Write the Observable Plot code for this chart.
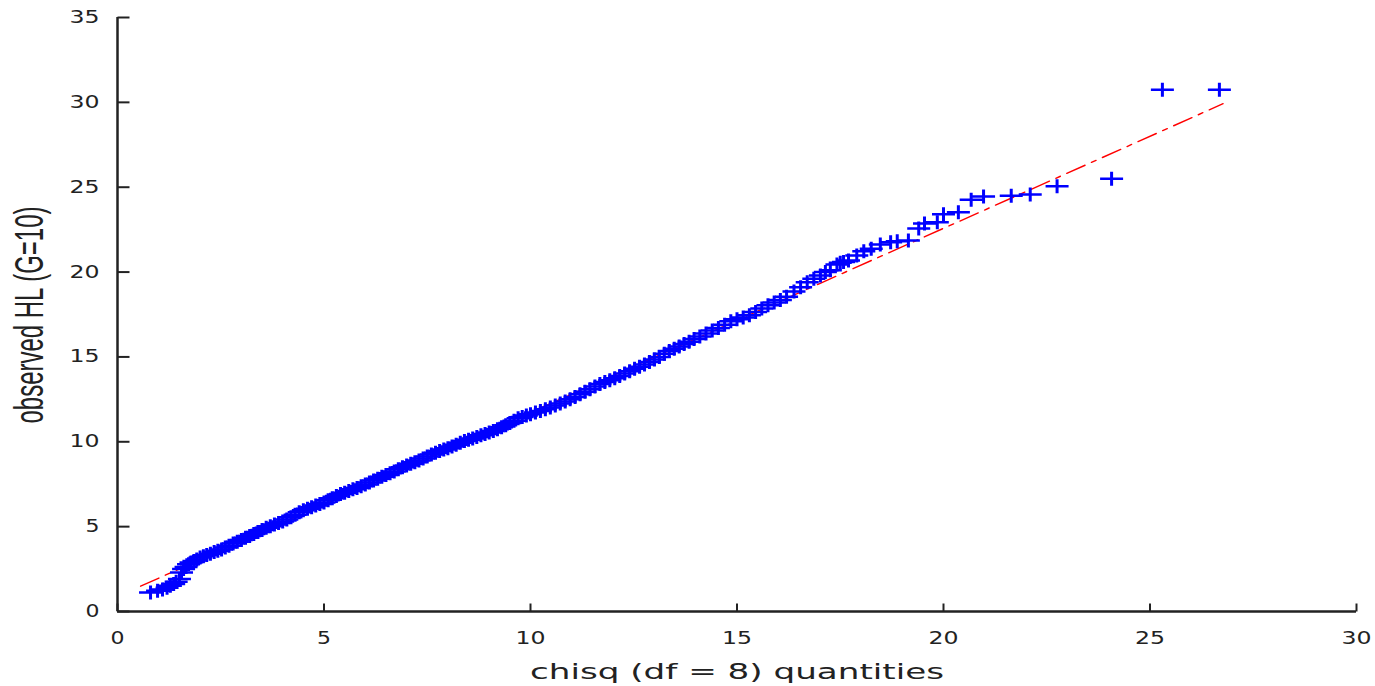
<!DOCTYPE html>
<html><head><meta charset="utf-8">
<script src="https://cdn.jsdelivr.net/npm/d3@7"></script>
<script src="https://cdn.jsdelivr.net/npm/@observablehq/plot@0.6"></script>
<style>body{margin:0;background:#fff;}</style>
</head><body><div id="chart"></div>
<script>
// chi-square (df = 8) theoretical quantiles (x) and observed Hosmer-Lemeshow statistics (y)
const chisqQ = [
0.80,0.97,1.09,1.20,1.28,1.36,1.42,1.50,1.55,1.60,1.66,1.72,1.78,1.85,1.92,2.00,2.08,2.16,2.25,2.34,
2.43,2.52,2.61,2.70,2.80,2.90,3.00,3.10,3.20,3.30,3.40,3.50,3.60,3.70,3.80,3.90,4.00,4.10,4.20,4.30,
4.40,4.50,4.60,4.70,4.80,4.90,5.00,5.10,5.20,5.30,5.40,5.50,5.60,5.70,5.80,5.90,6.00,6.10,6.20,6.30,
6.40,6.50,6.60,6.70,6.80,6.90,7.00,7.10,7.20,7.30,7.40,7.50,7.60,7.70,7.80,7.90,8.00,8.10,8.20,8.30,
8.40,8.50,8.60,8.70,8.80,8.90,9.00,9.10,9.20,9.30,9.40,9.50,9.60,9.70,9.80,9.90,10.00,10.12,10.24,10.36,
10.48,10.60,10.72,10.84,10.96,11.08,11.20,11.32,11.44,11.56,11.68,11.80,11.92,12.04,12.16,12.28,12.40,12.52,12.64,12.76,
12.88,13.00,13.12,13.24,13.36,13.48,13.60,13.72,13.84,13.96,14.10,14.25,14.40,14.55,14.70,14.85,15.00,15.15,15.30,15.45,
15.60,15.75,15.90,16.05,16.20,16.38,16.54,16.70,16.86,17.02,17.14,17.26,17.42,17.50,17.58,17.70,17.90,18.07,18.25,18.47,
18.72,18.88,19.15,19.40,19.54,19.85,20.00,20.36,20.67,20.97,21.64,22.10,22.75,24.07,25.30,26.68
];
const observedHL = [
1.12,1.22,1.30,1.40,1.52,1.62,1.75,1.92,2.30,2.50,2.62,2.78,2.88,2.97,3.06,3.18,3.25,3.33,3.40,3.50,
3.58,3.66,3.77,3.88,4.00,4.11,4.22,4.34,4.45,4.57,4.68,4.80,4.93,5.03,5.12,5.21,5.30,5.42,5.55,5.70,
5.85,5.97,6.06,6.15,6.24,6.33,6.42,6.55,6.68,6.80,6.92,7.00,7.10,7.20,7.28,7.38,7.48,7.60,7.72,7.82,
7.94,8.05,8.15,8.25,8.38,8.50,8.60,8.70,8.80,8.90,9.02,9.14,9.25,9.36,9.45,9.55,9.62,9.72,9.82,9.94,
10.04,10.12,10.20,10.28,10.38,10.46,10.55,10.64,10.74,10.86,10.97,11.10,11.24,11.38,11.46,11.55,11.62,11.72,11.82,11.92,
12.02,12.14,12.26,12.38,12.50,12.64,12.80,12.95,13.10,13.26,13.40,13.52,13.62,13.74,13.88,14.02,14.16,14.30,14.42,14.56,
14.70,14.85,15.00,15.18,15.35,15.48,15.62,15.76,15.90,16.05,16.20,16.38,16.55,16.70,16.90,17.10,17.22,17.32,17.45,17.65,
17.85,18.05,18.20,18.35,18.55,18.85,19.10,19.40,19.60,19.80,20.00,20.10,20.45,20.55,20.60,20.68,20.98,21.23,21.37,21.63,
21.76,21.82,21.86,22.57,22.86,22.94,23.40,23.53,24.26,24.45,24.50,24.57,25.06,25.50,30.74,30.74
];
// reference (fitted) line end points
const refLineX = [0.56, 26.77];
const refLineY = [1.49, 29.92];
const xTicks = [0, 5, 10, 15, 20, 25, 30];
const yTicks = [0, 5, 10, 15, 20, 25, 30, 35];
const xTitle = "chisq (df = 8) quantities";
const yTitle = "observed HL (G=10)";

const pts = chisqQ.map((x, i) => ({x, y: observedHL[i]}));
const ref = refLineX.map((x, i) => ({x, y: refLineY[i]}));

const plusSymbol = {draw(ctx) { ctx.rect(-11.5, -1.25, 23, 2.5); ctx.rect(-1.5, -7, 3, 14); }};
const xTickSym = {draw(ctx) { ctx.moveTo(0, 0); ctx.lineTo(0, -8); }};
const yTickSym = {draw(ctx) { ctx.moveTo(0, 0); ctx.lineTo(12, 0); }};
const axisColor = "#222";

const chart = Plot.plot({
  width: 1375,
  height: 686,
  marginLeft: 117,
  marginRight: 19,
  marginTop: 17,
  marginBottom: 75,
  style: {fontFamily: "DejaVu Sans", background: "#fff"},
  x: {domain: [0, 30], axis: null},
  y: {domain: [0, 35], axis: null},
  marks: [
    Plot.line(ref, {x: "x", y: "y", stroke: "#ff0000", strokeWidth: 1.4, strokeDasharray: "20,7,5,7"}),
    Plot.dot(pts, {x: "x", y: "y", symbol: plusSymbol, fill: "#0000ff", stroke: "none"}),
    Plot.ruleY([0], {stroke: axisColor, strokeWidth: 2.5}),
    Plot.ruleX([0], {stroke: axisColor, strokeWidth: 2.5}),
    Plot.dot(xTicks, {x: d => d, y: 0, symbol: xTickSym, stroke: axisColor, strokeWidth: 2, fill: "none"}),
    Plot.dot(yTicks, {x: 0, y: d => d, symbol: yTickSym, stroke: axisColor, strokeWidth: 2, fill: "none"}),
    Plot.text(xTicks, {x: d => d, y: 0, text: d => String(d), dy: 27, fontSize: 17, fill: axisColor}),
    Plot.text(yTicks, {x: 0, y: d => d, text: d => String(d), dx: -18, textAnchor: "end", fontSize: 17, fill: axisColor})
  ]
});

const s = d3.select(chart);
s.selectAll('g[aria-label="text"] text').each(function() {
  const n = this.textContent.length;
  this.setAttribute("textLength", n === 1 ? 14 : 30);
  this.setAttribute("lengthAdjust", "spacingAndGlyphs");
});
s.append("text")
  .attr("x", 737).attr("y", 679)
  .attr("text-anchor", "middle")
  .attr("font-family", "DejaVu Sans")
  .attr("font-size", 22)
  .attr("fill", axisColor)
  .attr("textLength", 414)
  .attr("lengthAdjust", "spacingAndGlyphs")
  .text(xTitle);
s.append("text")
  .attr("transform", "translate(43,315) rotate(-90)")
  .attr("text-anchor", "middle")
  .attr("font-family", "Liberation Sans")
  .attr("font-size", 40)
  .attr("fill", axisColor)
  .attr("textLength", 217)
  .attr("lengthAdjust", "spacingAndGlyphs")
  .text(yTitle);

document.getElementById("chart").appendChild(chart);
</script>
</body></html>
